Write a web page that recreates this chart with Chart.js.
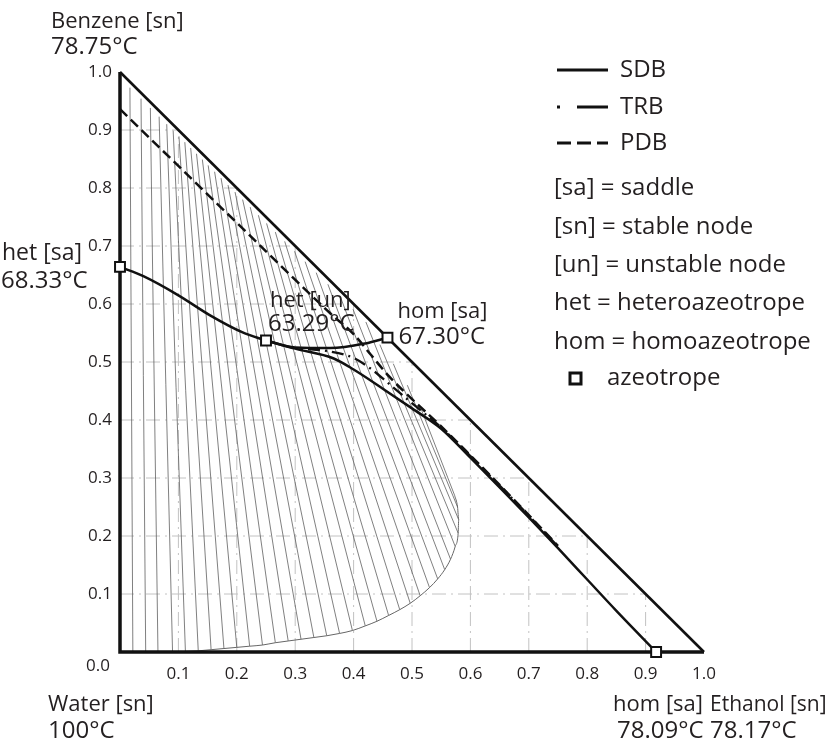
<!DOCTYPE html>
<html><head><meta charset="utf-8">
<script src="https://cdn.jsdelivr.net/npm/chart.js@4.4.1/dist/chart.umd.min.js"></script>
<style>html,body{margin:0;padding:0;background:#fff;}canvas{display:block;}</style>
</head><body>
<canvas id="c" width="829" height="740"></canvas>
<script>
// ---------- data ----------
const tickValues = [0, 0.1, 0.2, 0.3, 0.4, 0.5, 0.6, 0.7, 0.8, 0.9, 1.0];
const tickLabels = ['0.0','0.1','0.2','0.3','0.4','0.5','0.6','0.7','0.8','0.9','1.0'];
const gridValues = [0.1, 0.2, 0.3, 0.4, 0.5, 0.6, 0.7, 0.8, 0.9];

// triangle edges (x = ethanol, y = benzene)
const edgeX = [0, 0, 1];
const edgeY = [1, 0, 0];
const hypX = [0, 1];
const hypY = [1, 0];

// tie lines (water-rich end -> benzene-rich end)
const tieBottomX = [0.022,0.044,0.065,0.090,0.112,0.134,0.156,0.178,0.200,0.222,0.244,0.266,0.288,0.310,0.332,0.354,0.376,0.398,0.420,0.440,0.460,0.479,0.497,0.514,0.530,0.544,0.556,0.566,0.574,0.579,0.580,0.578,0.573];
const tieBottomY = [0,0,0,0,0.001,0.002,0.004,0.006,0.008,0.010,0.012,0.016,0.019,0.022,0.025,0.028,0.032,0.037,0.045,0.053,0.063,0.073,0.084,0.097,0.111,0.126,0.142,0.160,0.182,0.205,0.228,0.250,0.270];
const tieTopX = [0.017,0.036,0.052,0.067,0.080,0.091,0.101,0.111,0.121,0.131,0.141,0.151,0.162,0.173,0.185,0.197,0.210,0.223,0.237,0.251,0.266,0.282,0.299,0.317,0.336,0.356,0.377,0.399,0.421,0.445,0.468,0.492,0.516];
const tieTopY = [0.973,0.954,0.938,0.923,0.910,0.899,0.889,0.879,0.869,0.859,0.849,0.839,0.828,0.817,0.805,0.793,0.780,0.767,0.753,0.739,0.724,0.708,0.691,0.673,0.654,0.634,0.613,0.591,0.569,0.530,0.497,0.460,0.418];

// binodal (water-rich branch)
const binodalX = [0.100,0.112,0.134,0.156,0.178,0.200,0.222,0.244,0.266,0.288,0.310,0.332,0.354,0.376,0.398,0.420,0.440,0.460,0.479,0.497,0.514,0.530,0.544,0.556,0.566,0.574,0.579,0.580,0.578,0.573];
const binodalY = [0.000,0.001,0.002,0.004,0.006,0.008,0.010,0.012,0.016,0.019,0.022,0.025,0.028,0.032,0.037,0.045,0.053,0.063,0.073,0.084,0.097,0.111,0.126,0.142,0.160,0.182,0.205,0.228,0.250,0.270];

// distillation boundaries
const sdbLeftX = [0, 0.04, 0.10, 0.155, 0.21, 0.25];
const sdbLeftY = [0.664, 0.648, 0.615, 0.580, 0.551, 0.537];
const sdbUpperX = [0.25, 0.30, 0.36, 0.42, 0.458];
const sdbUpperY = [0.537, 0.525, 0.524, 0.532, 0.542];
const sdbLowerX = [0.25, 0.30, 0.366, 0.40, 0.45, 0.50, 0.55, 0.60, 0.65, 0.70, 0.75, 0.80, 0.85, 0.918];
const sdbLowerY = [0.537, 0.523, 0.506, 0.487, 0.454, 0.420, 0.385, 0.335, 0.284, 0.232, 0.179, 0.125, 0.071, 0.0];
const trbX = [0.31, 0.36, 0.40, 0.43, 0.46, 0.50, 0.55, 0.60, 0.65, 0.70, 0.75];
const trbY = [0.523, 0.518, 0.507, 0.488, 0.463, 0.429, 0.387, 0.338, 0.287, 0.235, 0.182];
const pdbX = [0, 0.20, 0.36, 0.40, 0.43, 0.46, 0.50, 0.55, 0.60, 0.65, 0.70, 0.75];
const pdbY = [0.936, 0.740, 0.584, 0.548, 0.512, 0.476, 0.436, 0.389, 0.339, 0.288, 0.236, 0.183];

// azeotropes
const azeoX = [0, 0.25, 0.458, 0.918];
const azeoY = [0.664, 0.537, 0.542, 0];

// texts
const cornerNames = ['Benzene [sn]', 'Water [sn]', 'Ethanol [sn]'];
const cornerTemps = ['78.75°C', '100°C', '78.17°C'];
const azeoNames = ['het [sa]', 'het [un]', 'hom [sa]', 'hom [sa]'];
const azeoTemps = ['68.33°C', '63.29°C', '67.30°C', '78.09°C'];
const legendLineLabels = ['SDB', 'TRB', 'PDB'];
const legendNotes = ['[sa] = saddle', '[sn] = stable node', '[un] = unstable node', 'het = heteroazeotrope', 'hom = homoazeotrope'];
const legendMarkerLabel = 'azeotrope';

// ---------- build ----------
const FONT = "'Open Sans', 'Noto Sans', sans-serif";
const INK = '#231f20';
const pts = (xs, ys) => xs.map((x, i) => ({x: x, y: ys[i]}));

const datasets = [];
tieBottomX.forEach((x, i) => {
  datasets.push({data: [{x: x, y: tieBottomY[i]}, {x: tieTopX[i], y: tieTopY[i]}], showLine: true,
    borderColor: '#606060', borderWidth: 0.8, pointRadius: 0, order: 10});
});
datasets.push({data: pts(binodalX, binodalY), showLine: true, borderColor: '#666', borderWidth: 1,
  cubicInterpolationMode: 'monotone', pointRadius: 0, order: 9});
datasets.push({data: pts(edgeX, edgeY), showLine: true, borderColor: '#111', borderWidth: 3.5,
  borderJoinStyle: 'miter', pointRadius: 0, order: 5, clip: false});
datasets.push({data: pts(hypX, hypY), showLine: true, borderColor: '#111', borderWidth: 2.6,
  pointRadius: 0, order: 5, clip: false});
const sdbStyle = {showLine: true, borderColor: '#111', borderWidth: 2.5, cubicInterpolationMode: 'monotone', pointRadius: 0, order: 3};
datasets.push(Object.assign({label: 'SDB', data: pts(sdbLeftX, sdbLeftY)}, sdbStyle));
datasets.push(Object.assign({data: pts(sdbUpperX, sdbUpperY)}, sdbStyle));
datasets.push(Object.assign({data: pts(sdbLowerX, sdbLowerY)}, sdbStyle));
datasets.push({label: 'TRB', data: pts(trbX, trbY), showLine: true, borderColor: '#111', borderWidth: 2.3,
  borderDash: [2, 5, 12, 5], cubicInterpolationMode: 'monotone', pointRadius: 0, order: 2});
datasets.push({label: 'PDB', data: pts(pdbX, pdbY), showLine: true, borderColor: '#111', borderWidth: 2.5,
  borderDash: [10, 5], cubicInterpolationMode: 'monotone', pointRadius: 0, order: 2});
datasets.push({label: 'azeotrope', data: pts(azeoX, azeoY), showLine: false, pointStyle: 'rect', pointRadius: 7,
  pointBackgroundColor: '#fff', pointBorderColor: '#111', pointBorderWidth: 2, order: 0, clip: false});

function text(ctx, s, x, y, size, align) {
  ctx.font = size + 'px ' + FONT;
  ctx.textAlign = align || 'left';
  ctx.textBaseline = 'middle';
  ctx.fillText(s, x, y);
}

const deco = {
  id: 'deco',
  beforeDatasetsDraw(chart) {
    const {ctx, scales: {x, y}} = chart;
    ctx.save();
    ctx.strokeStyle = '#c2c2c2';
    ctx.lineWidth = 1;
    ctx.setLineDash([14, 5, 2, 5]);
    gridValues.forEach(v => {
      ctx.beginPath();
      ctx.moveTo(x.getPixelForValue(v), y.getPixelForValue(0));
      ctx.lineTo(x.getPixelForValue(v), y.getPixelForValue(1 - v));
      ctx.stroke();
      ctx.beginPath();
      ctx.moveTo(x.getPixelForValue(0), y.getPixelForValue(v));
      ctx.lineTo(x.getPixelForValue(1 - v), y.getPixelForValue(v));
      ctx.stroke();
    });
    ctx.restore();
  },
  afterDraw(chart) {
    const {ctx, scales: {x, y}} = chart;
    const px = v => x.getPixelForValue(v), py = v => y.getPixelForValue(v);
    ctx.save();
    ctx.fillStyle = INK;
    // origin tick label
    text(ctx, tickLabels[0], px(0) - 10, py(0) + 14, 17, 'right');
    // corners
    text(ctx, cornerNames[0], px(0) - 69, py(1) - 50, 22);
    text(ctx, cornerTemps[0], px(0) - 69, py(1) - 25, 24);
    text(ctx, cornerNames[1], px(0) - 72, py(0) + 53, 22);
    text(ctx, cornerTemps[1], px(0) - 72, py(0) + 79, 24);
    text(ctx, cornerNames[2], px(1) + 6, py(0) + 53, 21);
    text(ctx, cornerTemps[2], px(1) + 6, py(0) + 79, 24);
    // azeotropes
    text(ctx, azeoNames[0], px(azeoX[0]) - 118, py(azeoY[0]) - 13, 23);
    text(ctx, azeoTemps[0], px(azeoX[0]) - 119, py(azeoY[0]) + 14, 24);
    text(ctx, azeoNames[1], px(azeoX[1]) + 4, py(azeoY[1]) - 40, 22);
    text(ctx, azeoTemps[1], px(azeoX[1]) + 2, py(azeoY[1]) - 16, 24);
    text(ctx, azeoNames[2], px(azeoX[2]) + 10, py(azeoY[2]) - 26, 22);
    text(ctx, azeoTemps[2], px(azeoX[2]) + 11, py(azeoY[2]), 24);
    text(ctx, azeoNames[3], px(azeoX[3]) - 43, py(azeoY[3]) + 53, 22);
    text(ctx, azeoTemps[3], px(azeoX[3]) - 39, py(azeoY[3]) + 79, 24);
    // legend
    const lx0 = 557, lx1 = 608, tx = 620;
    const rows = [70, 107, 143];
    const dashes = [[], [3, 17, 31], [14, 6]];
    rows.forEach((ry, i) => {
      ctx.save();
      ctx.strokeStyle = '#111';
      ctx.lineWidth = 3;
      ctx.setLineDash(dashes[i]);
      ctx.beginPath(); ctx.moveTo(lx0, ry); ctx.lineTo(lx1, ry); ctx.stroke();
      ctx.restore();
      text(ctx, legendLineLabels[i], tx, ry, 24);
    });
    const noteRows = [188, 227, 265, 303, 342];
    legendNotes.forEach((s, i) => text(ctx, s, 554, noteRows[i], 24));
    ctx.fillStyle = '#fff';
    ctx.strokeStyle = '#111';
    ctx.lineWidth = 3;
    ctx.fillRect(570, 373, 11, 11);
    ctx.strokeRect(570, 373, 11, 11);
    ctx.fillStyle = INK;
    text(ctx, legendMarkerLabel, 607, 378, 24);
    ctx.restore();
  }
};

const tickFont = {family: FONT, size: 17};
new Chart(document.getElementById('c'), {
  type: 'scatter',
  data: {datasets: datasets},
  options: {
    responsive: false,
    animation: false,
    events: [],
    layout: {padding: {left: 0, right: 125, top: 72, bottom: 0}},
    plugins: {legend: {display: false}, tooltip: {enabled: false}},
    scales: {
      x: {
        type: 'linear', min: 0, max: 1,
        grid: {display: false, drawTicks: false}, border: {display: false},
        afterBuildTicks: s => { s.ticks = tickValues.map(v => ({value: v})); },
        afterFit: s => { s.height = 88; },
        ticks: {autoSkip: false, maxRotation: 0, padding: 12, font: tickFont, color: INK,
          callback: (v, i) => i === 0 ? '' : tickLabels[i]}
      },
      y: {
        type: 'linear', min: 0, max: 1,
        grid: {display: false, drawTicks: false}, border: {display: false},
        afterBuildTicks: s => { s.ticks = tickValues.map(v => ({value: v})); },
        afterFit: s => { s.width = 120; },
        ticks: {autoSkip: false, padding: 8, font: tickFont, color: INK,
          callback: (v, i) => i === 0 ? '' : tickLabels[i]}
      }
    }
  },
  plugins: [deco]
});
</script>
</body></html>
